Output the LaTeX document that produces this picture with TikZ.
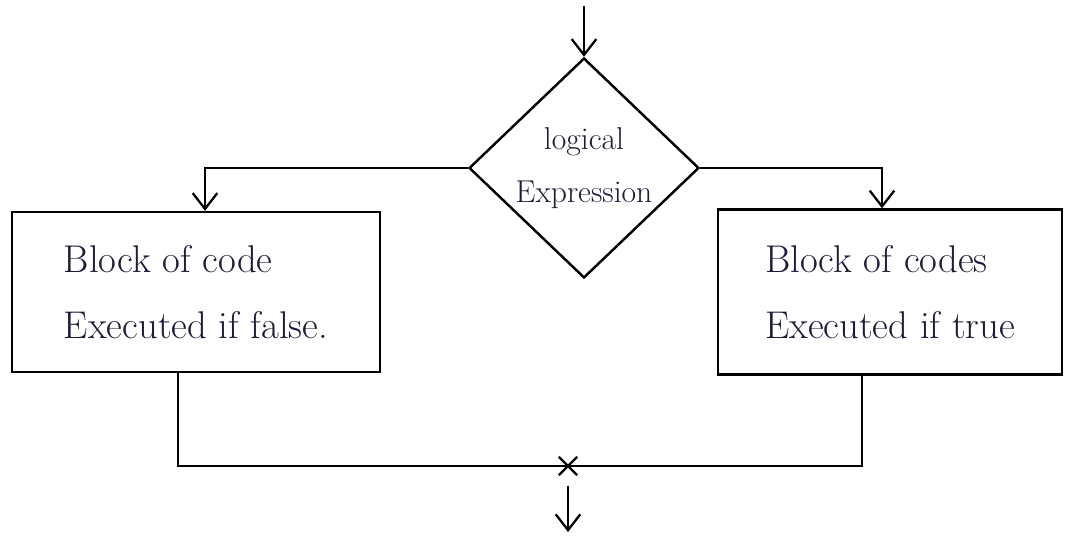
\documentclass[tikz,border=0pt]{standalone}
\usepackage{tikz}
\usetikzlibrary{arrows.meta,shapes.geometric,shapes.misc}
\definecolor{ink}{RGB}{28,28,58}
\tikzset{
	pen/.style={line width=1.4pt, color=black},
	flow/.style={pen, -{Straight Barb[length=9pt,width=14pt,line width=1.3pt]}},
	decision/.style={pen, draw, shape=diamond, minimum width=4.6cm, minimum height=4.4cm, inner sep=0pt, text=ink, align=center, font=\fontsize{18}{30}\selectfont},
	codebox/.style={pen, draw, rectangle, inner sep=0pt, text=ink, align=left, font=\fontsize{22}{38}\selectfont}
}

\begin{document}
\begin{tikzpicture}[x=0.02cm, y=-0.02cm]
		%%%%% START %%%%%
		\useasboundingbox (0, 0) rectangle (1091, 536);
		
		\node[decision] (cond) at (584, 168) {logical\\Expression};
		\coordinate (entry) at (584, 6);
		\draw[flow] (entry) -- (cond.north);
		
		\node[codebox, minimum width=7.36cm, minimum height=3.2cm] (falseblk) at (196, 292) {Block of code\\Executed if false.};
		\node[codebox, minimum width=6.88cm, minimum height=3.3cm] (trueblk) at (890, 292) {Block of codes\\Executed if true};
		
		\draw[flow] (cond.west) -| ([xshift=0.18cm]falseblk.north);
		\draw[flow] (cond.east) -| ([xshift=-0.16cm]trueblk.north);
		
		\node[pen, draw, cross out, minimum size=9pt, inner sep=0pt] (merge) at (568, 466) {};
		\draw[pen] ([xshift=-0.36cm]falseblk.south) |- (merge.center) -| ([xshift=-0.56cm]trueblk.south);
		
		\coordinate (exit) at (568, 532);
		\draw[flow] ([yshift=-6pt]merge.south) -- (exit);
		%%%%% END %%%%%
	\end{tikzpicture}
\end{document}
